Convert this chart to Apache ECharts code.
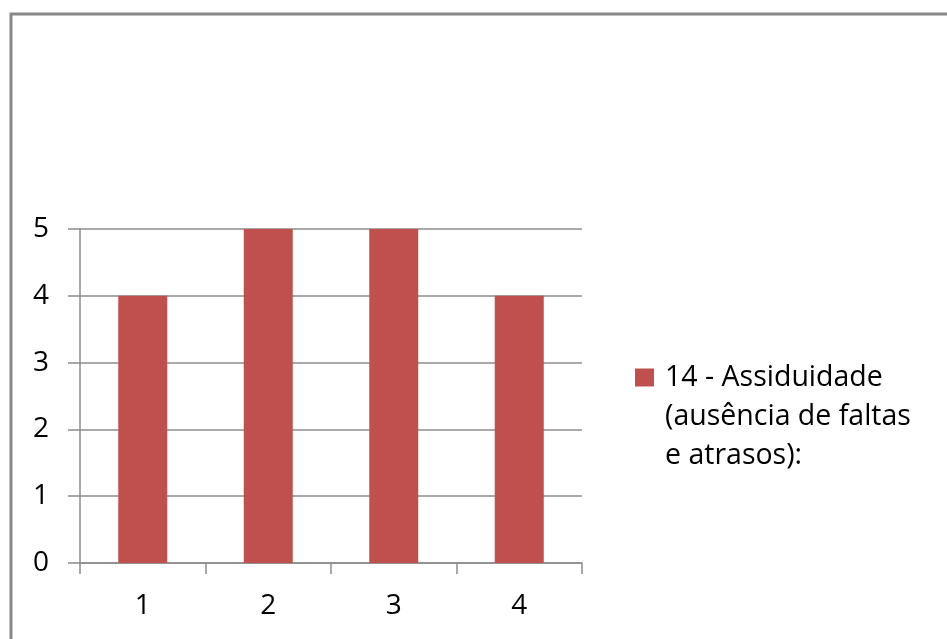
<!DOCTYPE html>
<html>
<head>
<meta charset="utf-8">
<script src="https://cdn.jsdelivr.net/npm/echarts@6/dist/echarts.min.js"></script>
<style>
  html, body { margin: 0; padding: 0; background: #fff; }
  #chart { width: 947px; height: 639px; }
</style>
</head>
<body>
<div id="chart"></div>
<script>
// Chart data
const categories = ['1', '2', '3', '4'];
const seriesName = '14 - Assiduidade\n(ausência de faltas\ne atrasos):';
const values = [4, 5, 5, 4];
const yTicks = { min: 0, max: 5, interval: 1 };

const FONT = 'Open Sans';
const FONT_SIZE = 28;
const chart = echarts.init(document.getElementById('chart'), null, { renderer: 'canvas' });

chart.setOption({
  backgroundColor: '#ffffff',
  animation: false,
  textStyle: { fontFamily: FONT },
  graphic: [{
    type: 'rect',
    left: 8.5, top: 11.5,
    shape: { x: 0, y: 0, width: 1000, height: 700 },
    style: { fill: 'none', stroke: '#888888', lineWidth: 3 },
    silent: true
  }],
  grid: { left: 80, right: 365, top: 229, bottom: 76, containLabel: false },
  legend: {
    show: true,
    orient: 'vertical',
    left: 635,
    top: 280,
    padding: 0,
    itemWidth: 19,
    itemHeight: 18,
    icon: 'rect',
    // two leading blank lines keep the first text line level with the swatch
    formatter: function (name) { return '\n\n' + name; },
    textStyle: {
      fontFamily: FONT,
      fontSize: 28.5,
      color: '#000',
      lineHeight: 39,
      padding: [0, 0, 0, 6]
    },
    data: [seriesName]
  },
  xAxis: {
    type: 'category',
    data: categories,
    axisLine: { show: true, lineStyle: { color: '#8c8c8c', width: 1.5 } },
    axisTick: { show: true, length: 11, lineStyle: { color: '#8c8c8c', width: 1.5 } },
    axisLabel: { fontFamily: FONT, fontSize: FONT_SIZE, color: '#000', margin: 29 }
  },
  yAxis: {
    type: 'value',
    min: yTicks.min, max: yTicks.max, interval: yTicks.interval,
    axisLine: { show: true, lineStyle: { color: '#8c8c8c', width: 1.5 } },
    axisTick: { show: true, length: 12, lineStyle: { color: '#8c8c8c', width: 1.5 } },
    splitLine: { show: true, lineStyle: { color: '#8c8c8c', width: 1.5 } },
    axisLabel: { fontFamily: FONT, fontSize: FONT_SIZE, color: '#000', margin: 31 }
  },
  series: [{
    name: seriesName,
    type: 'bar',
    data: values,
    barWidth: 49,
    itemStyle: { color: '#C0504D' }
  }]
});
</script>
</body>
</html>
